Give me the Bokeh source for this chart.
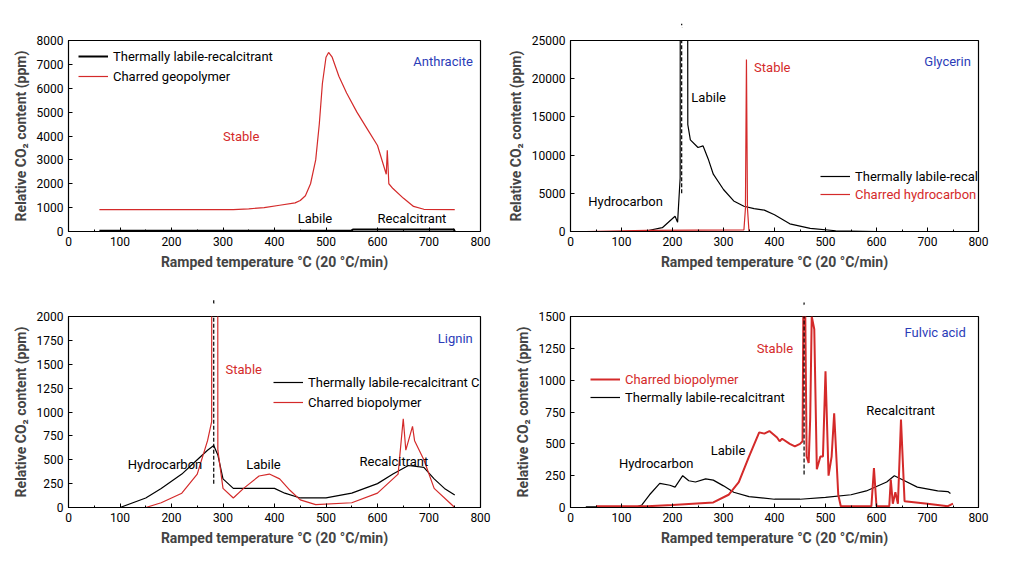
from bokeh.plotting import figure
from bokeh.layouts import gridplot
from bokeh.models import Label, Arrow, VeeHead, Legend, LegendItem, FixedTicker, Range1d
from bokeh.embed import file_html
from bokeh.resources import INLINE

# Panel A
a_red_x = [60,320,350,380,410,440,450,460,470,480,487,493,500,505,512,525,540,560,580,600,617,619,622,630,650,670,690,750]
a_red_y = [920,920,950,1000,1100,1200,1300,1500,2000,3000,4500,6200,7300,7500,7300,6500,5800,5000,4300,3600,2400,3400,2000,1800,1400,1050,930,920]
a_blk_x = [60,550,552,745,748,750]
a_blk_y = [30,30,80,80,100,0]
# Panel B
b_blk_x = [30,100,150,180,205,210,215,218,225,230,235,250,260,270,280,300,320,340,360,380,400,430,470,520,600,750]
b_blk_y = [0,0,100,500,2000,1200,7000,350000,350000,14000,12000,11000,11200,9500,7500,5500,4000,3300,3000,2800,2200,1000,400,100,0,0]
b_red_x = [30,150,340,343,345,347,350,750]
b_red_y = [0,150,200,3000,22500,3000,0,0]
# Panel C
c_blk_x = [50,100,150,180,220,250,270,282,290,300,320,400,420,450,500,550,600,630,660,690,710,730,750]
c_blk_y = [0,0,100,200,350,500,600,650,550,300,200,200,150,100,100,150,250,350,440,420,300,200,130]
c_red_x = [50,150,180,220,250,270,278,283,290,300,320,340,370,390,410,430,450,480,550,600,640,650,655,668,672,690,710,740,750]
c_red_y = [0,0,50,150,350,700,900,70000,600,200,100,200,330,350,300,180,80,30,50,150,350,930,600,850,700,500,200,50,0]
# Panel D
d_blk_x = [30,130,140,155,175,195,205,220,232,245,265,280,300,320,350,400,450,500,550,580,620,635,650,680,720,740,745]
d_blk_y = [5,5,20,100,190,175,160,250,210,200,225,215,170,120,85,65,65,80,100,130,200,250,220,160,130,125,110]
d_red_x = [50,150,200,280,310,330,350,370,380,390,405,410,415,430,440,450,455,458,463,467,470,473,478,483,490,495,500,506,512,517,525,530,590,595,600,625,628,632,637,642,648,655,700,740,750]
d_red_y = [10,10,20,40,100,200,400,590,580,600,550,520,540,500,480,500,520,2500,400,350,700,1500,1400,300,400,400,1070,250,400,740,100,10,10,310,10,10,220,30,120,30,690,50,30,10,30]

RED = "#d42a2a"
BLUE = "#2b3cb8"
FONT = "Roboto"
TEAL = "#36aec0"

def make(ymax, yticks, letter, left):
    p = figure(width=498, height=276, output_backend="svg", toolbar_location=None,
               x_range=Range1d(0, 800), y_range=Range1d(0, ymax),
               min_border_left=left, min_border_right=18, min_border_top=40, min_border_bottom=45)
    p.xgrid.visible = False
    p.ygrid.visible = False
    p.outline_line_color = "black"
    p.outline_line_width = 1.2
    p.xaxis.ticker = FixedTicker(ticks=list(range(0, 801, 100)), minor_ticks=list(range(0, 801, 50)))
    p.yaxis.ticker = FixedTicker(ticks=yticks)
    for ax in (p.xaxis, p.yaxis):
        ax.major_label_text_font = FONT
        ax.major_label_text_font_size = "12px"
        ax.major_label_text_color = "black"
        ax.axis_label_text_font = FONT
        ax.axis_label_text_font_style = "bold"
        ax.axis_label_text_font_size = "14px"
        ax.axis_line_color = "black"
        ax.major_tick_line_color = "black"
        ax.minor_tick_line_color = "black"
        ax.major_tick_in = 4
        ax.major_tick_out = 0
        ax.minor_tick_in = 2
        ax.minor_tick_out = 0
    p.yaxis.minor_tick_line_color = None
    p.xaxis.axis_label = "Ramped temperature °C (20 °C/min)"
    p.yaxis.axis_label = "Relative CO₂ content (ppm)"
    p.add_layout(Label(x=-58 if left > 60 else -52, y=ymax * 1.06, x_units="data", text=letter, text_color="white",
                       text_font=FONT, text_font_size="13px", background_fill_color=TEAL,
                       border_radius=10, padding=4, text_align="center", text_baseline="middle"))
    return p

def txt(p, x, y, t, color="black", align="left"):
    p.add_layout(Label(x=x, y=y, text=t, text_color=color, text_font=FONT, text_font_size="13px",
                       text_align=align, text_baseline="middle"))

def legend(p, items, x, y, color="black"):
    lg = Legend(items=items, location=(x, y), border_line_color=None, background_fill_alpha=0,
                label_text_font=FONT, label_text_font_size="13px", glyph_width=30, label_height=14,
                spacing=0, padding=2, label_text_color=color)
    p.add_layout(lg, "center")

# A
pa = make(8000, list(range(0, 8001, 1000)), "A", 68)
ra = pa.line(a_red_x, a_red_y, color=RED, line_width=1.2)
ka = pa.line(a_blk_x, a_blk_y, color="black", line_width=2)
legend(pa, [LegendItem(label="Thermally labile-recalcitrant", renderers=[ka]),
            LegendItem(label="Charred geopolymer", renderers=[ra])], 10, 145)
txt(pa, 800 - 15, 7100, "Anthracite", BLUE, "right")
txt(pa, 300, 4000, "Stable", RED)
txt(pa, 445, 550, "Labile")
txt(pa, 600, 550, "Recalcitrant")

# B
pb = make(25000, list(range(0, 25001, 5000)), "B", 72)
kb = pb.line(b_blk_x, b_blk_y, color="black", line_width=1.2)
rb = pb.line(b_red_x, b_red_y, color=RED, line_width=1.2)
legend(pb, [LegendItem(label="Thermally labile-recalcitrant", renderers=[kb])], 250, 45)
legend(pb, [LegendItem(label="Charred hydrocarbon", renderers=[rb])], 250, 27, RED)
txt(pb, 785, 22200, "Glycerin", BLUE, "right")
txt(pb, 360, 21500, "Stable", RED)
txt(pb, 237, 17500, "Labile")
txt(pb, 35, 3900, "Hydrocarbon")
pb.add_layout(Arrow(end=VeeHead(size=6, fill_color="black", line_color="black"), x_start=218, y_start=5000,
                    x_end=218, y_end=27200, line_dash="4 2", line_width=1.2))
txt(pb, 218, 28800, "Up to 350,000 ppm", "black", "center")

# C
pc = make(2000, list(range(0, 2001, 250)), "C", 68)
kc = pc.line(c_blk_x, c_blk_y, color="black", line_width=1.2)
rc = pc.line(c_red_x, c_red_y, color=RED, line_width=1.2)
legend(pc, [LegendItem(label="Thermally labile-recalcitrant C", renderers=[kc]),
            LegendItem(label="Charred biopolymer", renderers=[rc])], 205, 95)
txt(pc, 785, 1770, "Lignin", BLUE, "right")
txt(pc, 305, 1450, "Stable", RED)
txt(pc, 115, 450, "Hydrocarbon")
txt(pc, 345, 450, "Labile")
txt(pc, 565, 480, "Recalcitrant")
pc.add_layout(Arrow(end=VeeHead(size=6, fill_color="black", line_color="black"), x_start=282, y_start=250,
                    x_end=282, y_end=2170, line_dash="4 2", line_width=1.2))
txt(pc, 282, 2300, "Up to 70000 ppm", "black", "center")

# D
pd = make(1500, list(range(0, 1501, 250)), "D", 65)
kd = pd.line(d_blk_x, d_blk_y, color="black", line_width=1.2)
rd = pd.line(d_red_x, d_red_y, color=RED, line_width=2)
legend(pd, [LegendItem(label="Charred biopolymer", renderers=[rd])], 20, 118, RED)
legend(pd, [LegendItem(label="Thermally labile-recalcitrant", renderers=[kd])], 20, 100)
txt(pd, 775, 1375, "Fulvic acid", BLUE, "right")
txt(pd, 365, 1250, "Stable", RED)
txt(pd, 95, 345, "Hydrocarbon")
txt(pd, 275, 450, "Labile")
txt(pd, 580, 765, "Recalcitrant")
pd.add_layout(Arrow(end=VeeHead(size=6, fill_color="black", line_color="black"), x_start=458, y_start=260,
                    x_end=458, y_end=1620, line_dash="4 2", line_width=1.2))
txt(pd, 458, 1700, "Up to 2500 ppm", "black", "center")

grid = gridplot([[pa, pb], [pc, pd]], toolbar_location=None)
open("out.html", "w").write(file_html(grid, INLINE))
